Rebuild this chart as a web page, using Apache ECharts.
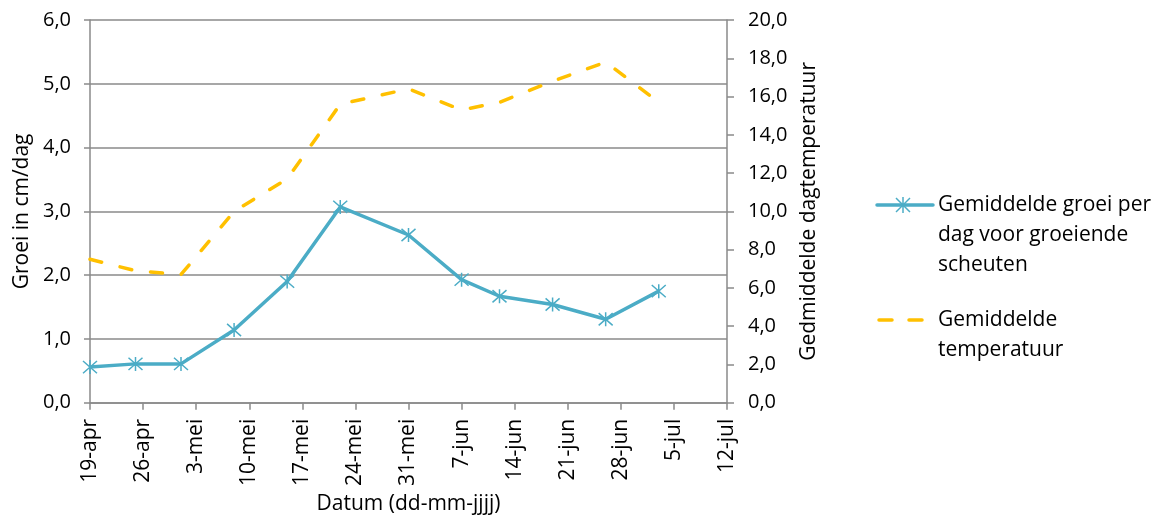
<!DOCTYPE html>
<html>
<head>
<meta charset="utf-8">
<script src="https://cdn.jsdelivr.net/npm/echarts@6/dist/echarts.min.js"></script>
<style>
  html, body { margin: 0; padding: 0; background: #ffffff; }
  #chart { width: 1160px; height: 520px; }
</style>
</head>
<body>
<div id="chart"></div>
<script>
// Weekly tick labels on the date axis
const weekTicks = ['19-apr', '26-apr', '3-mei', '10-mei', '17-mei', '24-mei', '31-mei',
                   '7-jun', '14-jun', '21-jun', '28-jun', '5-jul', '12-jul'];

// Measurement dates
const sampleDates = ['19-apr', '25-apr', '1-mei', '8-mei', '15-mei', '22-mei', '31-mei',
                     '7-jun', '12-jun', '19-jun', '26-jun', '3-jul'];

// Mean daily growth of growing shoots (cm/day)
const growth = [0.56, 0.61, 0.61, 1.14, 1.90, 3.07, 2.63, 1.93, 1.67, 1.54, 1.31, 1.75];

// Mean day temperature (°C)
const temperature = [7.5, 6.9, 6.7, 10.0, 11.7, 15.6, 16.4, 15.3, 15.7, 16.8, 17.8, 15.7];

const growthName = 'Gemiddelde groei per\ndag voor groeiende\nscheuten';
const tempName = 'Gemiddelde\ntemperatuur';

// Convert "d-mon" strings to days after the first tick (19-apr)
const monthIndex = { apr: 3, mei: 4, jun: 5, jul: 6 };
function dayOffset(label) {
  const [d, m] = label.split('-');
  const t = Date.UTC(2001, monthIndex[m], Number(d));
  const t0 = Date.UTC(2001, 3, 19);
  return Math.round((t - t0) / 86400000);
}
const xs = sampleDates.map(dayOffset);

const FONT = '"Open Sans", "Noto Sans", sans-serif';
const GRID_GRAY = '#8a8a8a';
const BLUE = '#4BACC6';
const GOLD = '#FFC000';
const comma1 = v => v.toFixed(1).replace('.', ',');

const numText = { color: '#000', fontSize: 20, fontFamily: FONT };
const wordText = { color: '#000', fontSize: 21, fontFamily: FONT };
const axisLineStyle = { color: GRID_GRAY, width: 1.5 };

// Six-armed asterisk marker, stroked only
const starPath = 'path://M0,0L14,14M14,0L0,14M7,-1L7,15';

const chart = echarts.init(document.getElementById('chart'), null, { renderer: 'canvas' });

chart.setOption({
  animation: false,
  backgroundColor: '#ffffff',
  grid: { left: 90, right: 433, top: 20, bottom: 117, containLabel: false },
  xAxis: {
    type: 'value',
    min: 0,
    max: 84,
    interval: 7,
    axisLine: { show: true, lineStyle: axisLineStyle },
    axisTick: { show: true, length: 7, lineStyle: axisLineStyle },
    splitLine: { show: false },
    axisLabel: Object.assign({
      rotate: 90,
      margin: 16,
      formatter: v => weekTicks[Math.round(v / 7)]
    }, wordText),
    name: 'Datum (dd-mm-jjjj)',
    nameLocation: 'middle',
    nameGap: 91,
    nameTextStyle: wordText
  },
  yAxis: [
    {
      type: 'value',
      position: 'left',
      min: 0,
      max: 6,
      interval: 1,
      axisLine: { show: true, lineStyle: axisLineStyle },
      axisTick: { show: true, length: 6, lineStyle: axisLineStyle },
      splitLine: { show: true, lineStyle: axisLineStyle },
      axisLabel: Object.assign({ margin: 19, formatter: comma1 }, numText),
      name: 'Groei in cm/dag',
      nameLocation: 'middle',
      nameGap: 56,
      nameRotate: 90,
      nameTextStyle: wordText
    },
    {
      type: 'value',
      position: 'right',
      min: 0,
      max: 20,
      interval: 2,
      axisLine: { show: true, lineStyle: axisLineStyle },
      axisTick: { show: true, length: 7, lineStyle: axisLineStyle },
      splitLine: { show: false },
      axisLabel: Object.assign({ margin: 21, formatter: comma1 }, numText),
      name: 'Gedmiddelde dagtemperatuur',
      nameLocation: 'middle',
      nameGap: 72,
      nameRotate: 90,
      nameTextStyle: wordText
    }
  ],
  series: [
    {
      name: growthName,
      type: 'line',
      yAxisIndex: 0,
      data: xs.map((x, i) => [x, growth[i]]),
      symbol: starPath,
      symbolSize: 14,
      itemStyle: { color: 'rgba(0,0,0,0)', borderColor: BLUE, borderWidth: 1.5 },
      lineStyle: { color: BLUE, width: 3.5, join: 'round' },
      emphasis: { disabled: true },
      z: 3
    },
    {
      name: tempName,
      type: 'line',
      yAxisIndex: 1,
      data: xs.map((x, i) => [x, temperature[i]]),
      symbol: 'none',
      lineStyle: { color: GOLD, width: 3.5, type: [12, 19], cap: 'round', join: 'round' },
      emphasis: { disabled: true },
      z: 2
    }
  ],
  graphic: [
    // growth legend entry
    { type: 'line', shape: { x1: 877, y1: 205, x2: 933, y2: 205 },
      style: { stroke: BLUE, lineWidth: 3.5, lineCap: 'round' } },
    { type: 'line', shape: { x1: 896, y1: 198, x2: 910, y2: 212 }, style: { stroke: BLUE, lineWidth: 1.5 } },
    { type: 'line', shape: { x1: 910, y1: 198, x2: 896, y2: 212 }, style: { stroke: BLUE, lineWidth: 1.5 } },
    { type: 'line', shape: { x1: 903, y1: 197, x2: 903, y2: 213 }, style: { stroke: BLUE, lineWidth: 1.5 } },
    { type: 'text', x: 938, y: 190,
      style: { text: growthName, font: '21px ' + FONT, fill: '#000', lineHeight: 30, verticalAlign: 'top' } },
    // temperature legend entry
    { type: 'line', shape: { x1: 879, y1: 320, x2: 927, y2: 320 },
      style: { stroke: GOLD, lineWidth: 3.5, lineCap: 'round', lineDash: [13, 17] } },
    { type: 'text', x: 938, y: 305,
      style: { text: tempName, font: '21px ' + FONT, fill: '#000', lineHeight: 30, verticalAlign: 'top' } }
  ]
});
</script>
</body>
</html>
